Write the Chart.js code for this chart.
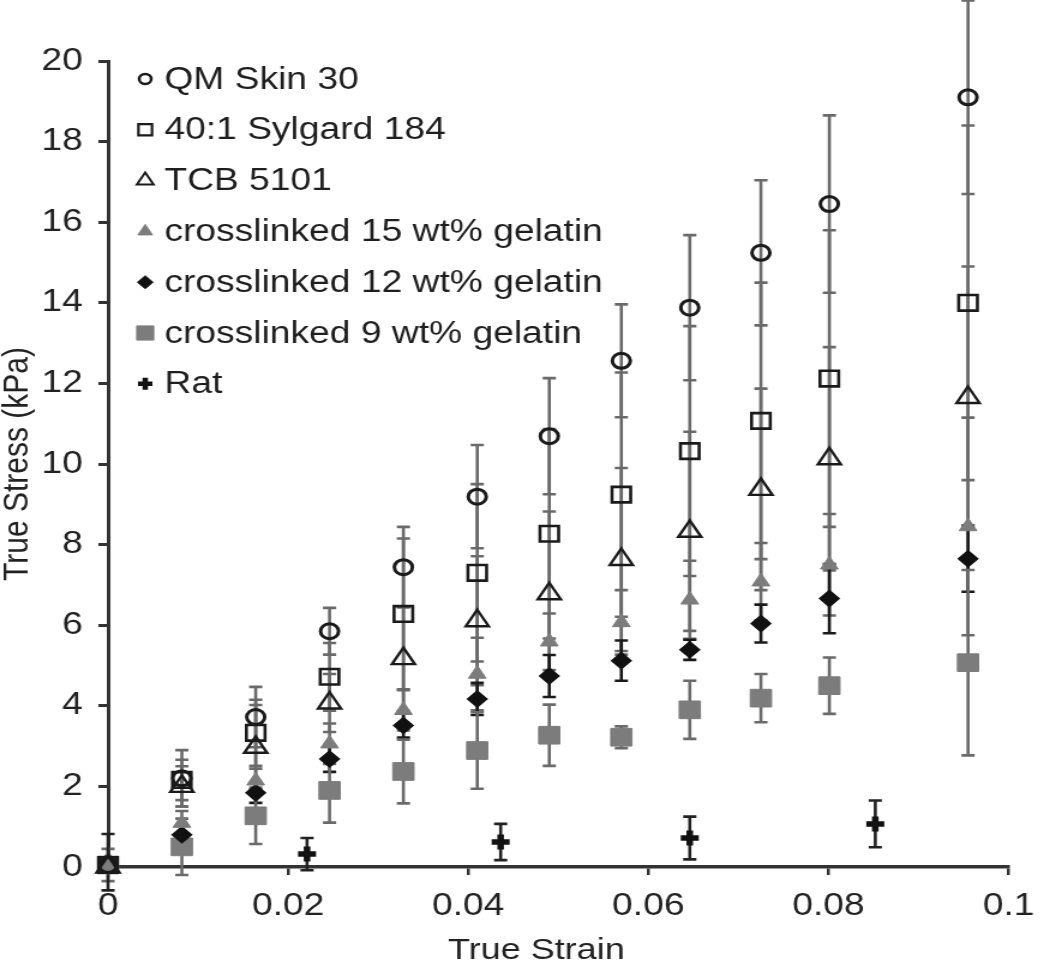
<!DOCTYPE html>
<html>
<head>
<meta charset="utf-8">
<script src="https://cdn.jsdelivr.net/npm/chart.js@4/dist/chart.umd.min.js"></script>
<style>
  html, body { margin: 0; padding: 0; background: #fff; }
</style>
</head>
<body>
<!-- the original figure is stretched sideways, so the canvas is drawn narrow and widened by its inline style -->
<canvas id="chart" width="875" height="965" style="width:1050px;height:965px;display:block"></canvas>
<script>
// strain columns shared by the six materials
const strain = [0, 0.0082, 0.0164, 0.0246, 0.0328, 0.041, 0.049, 0.057, 0.0646, 0.0725, 0.0801, 0.0955];

const qmSkin = [0.05, 2.2, 3.72, 5.85, 7.44, 9.19, 10.69, 12.56, 13.88, 15.24, 16.45, 19.1];
const qmSkinErr = [0.4, 0.7, 0.75, 0.58, 1.0, 1.28, 1.44, 1.4, 1.8, 1.8, 2.2, 2.4];

const sylgard = [0.05, 2.16, 3.33, 4.72, 6.28, 7.3, 8.27, 9.24, 10.32, 11.07, 12.12, 14.0];
const sylgardErr = [0.1, 0.5, 0.82, 0.84, 1.87, 2.2, 2.6, 3.03, 3.1, 3.43, 3.68, 4.4];

const tcb = [0, 2.0, 2.97, 4.07, 5.17, 6.11, 6.78, 7.63, 8.33, 9.37, 10.13, 11.65];
const tcbErr = [0.1, 0.5, 1.05, 0.72, 1.3, 1.6, 2.04, 2.27, 2.47, 2.5, 2.77, 3.25];

const gel15 = [0.02, 1.09, 2.14, 3.06, 3.89, 4.79, 5.59, 6.07, 6.63, 7.08, 7.5, 8.45];
const gel15Err = [0.1, 0.3, 0.3, 0.5, 0.5, 0.9, 0.7, 0.8, 0.97, 0.96, 1.26, 2.7];

const gel12 = [0.05, 0.8, 1.84, 2.68, 3.51, 4.17, 4.74, 5.12, 5.39, 6.04, 6.66, 7.65];
const gel12Err = [0.1, 0.25, 0.25, 0.32, 0.3, 0.4, 0.52, 0.5, 0.25, 0.47, 0.86, 0.82];

const gel9 = [0.05, 0.5, 1.27, 1.9, 2.37, 2.89, 3.27, 3.22, 3.9, 4.19, 4.5, 5.07];
const gel9Err = [0.1, 0.7, 0.7, 0.8, 0.79, 0.95, 0.76, 0.27, 0.72, 0.6, 0.7, 2.3];

// rat tissue was measured at other strains
const ratStrain = [0, 0.0221, 0.0436, 0.0646, 0.0852];
const rat = [0.12, 0.32, 0.62, 0.72, 1.07];
const ratErr = [0.7, 0.4, 0.45, 0.53, 0.58];

const xTicks = [0, 0.02, 0.04, 0.06, 0.08, 0.1];
const yTicks = [0, 2, 4, 6, 8, 10, 12, 14, 16, 18, 20];

const FONT = '"Liberation Sans", Arial, sans-serif';
const GRAY = "#7c7c7c";
const BAR = "#6a6a6a";

function points(xs, ys) {
  return ys.map((v, i) => ({ x: xs[i], y: v }));
}

// vertical error bars with caps, drawn under the markers
const errorBars = {
  id: "errorBars",
  beforeDatasetsDraw(chart) {
    const { ctx, scales } = chart;
    chart.data.datasets.forEach((ds) => {
      ctx.save();
      ctx.strokeStyle = ds.errColor;
      ctx.lineWidth = 2.6;
      ds.data.forEach((p, j) => {
        const e = ds.errors[j];
        const px = scales.x.getPixelForValue(p.x);
        const top = scales.y.getPixelForValue(p.y + e);
        const bot = scales.y.getPixelForValue(p.y - e);
        ctx.beginPath();
        ctx.moveTo(px, top);
        ctx.lineTo(px, bot);
        ctx.moveTo(px - 5.5, top);
        ctx.lineTo(px + 5.5, top);
        ctx.moveTo(px - 5.5, bot);
        ctx.lineTo(px + 5.5, bot);
        ctx.stroke();
      });
      ctx.restore();
    });
  },
};

// legend list inside the plot (top left) and the x title, which sits left of the axis centre
const legendList = {
  id: "legendList",
  afterDraw(chart) {
    const ctx = chart.ctx;
    ctx.save();
    ctx.textBaseline = "middle";
    ctx.font = "31px " + FONT;
    chart.data.datasets.forEach((ds, i) => {
      const yy = 79 + i * 50.8;
      ctx.fillStyle = ds.backgroundColor;
      ctx.strokeStyle = ds.borderColor;
      ctx.lineWidth = ds.legendBorder;
      Chart.helpers.drawPoint(ctx, {
        pointStyle: ds.pointStyle,
        radius: ds.legendRadius,
        borderWidth: ds.legendBorder,
        rotation: 0,
      }, 121, yy);
      ctx.fillStyle = "#1e1e1e";
      ctx.fillText(ds.label, 137, yy + 1);
    });
    ctx.font = "30px " + FONT;
    ctx.textAlign = "center";
    ctx.fillStyle = "#222";
    ctx.fillText("True Strain", 447, 951);
    ctx.restore();
  },
};

const datasets = [
  {
    label: "QM Skin 30", data: points(strain, qmSkin), errors: qmSkinErr, errColor: BAR,
    pointStyle: "circle", pointRadius: 7.5, borderWidth: 3,
    borderColor: "#1a1a1a", backgroundColor: "rgba(0,0,0,0)", legendRadius: 5, legendBorder: 2.5,
  },
  {
    label: "40:1 Sylgard 184", data: points(strain, sylgard), errors: sylgardErr, errColor: BAR,
    pointStyle: "rect", pointRadius: 11, borderWidth: 2.6,
    borderColor: "#1a1a1a", backgroundColor: "rgba(0,0,0,0)", legendRadius: 8, legendBorder: 2.2,
  },
  {
    label: "TCB 5101", data: points(strain, tcb), errors: tcbErr, errColor: BAR,
    pointStyle: "triangle", pointRadius: 11, borderWidth: 2.4,
    borderColor: "#1a1a1a", backgroundColor: "rgba(0,0,0,0)", legendRadius: 8, legendBorder: 2,
  },
  {
    label: "crosslinked 15 wt% gelatin", data: points(strain, gel15), errors: gel15Err, errColor: BAR,
    pointStyle: "triangle", pointRadius: 8.5, borderWidth: 1,
    borderColor: GRAY, backgroundColor: GRAY, legendRadius: 7, legendBorder: 1,
  },
  {
    label: "crosslinked 12 wt% gelatin", data: points(strain, gel12), errors: gel12Err, errColor: "#1a1a1a",
    pointStyle: "rectRot", pointRadius: 8, borderWidth: 1.5,
    borderColor: "#111", backgroundColor: "#111", legendRadius: 6.5, legendBorder: 1,
  },
  {
    label: "crosslinked 9 wt% gelatin", data: points(strain, gel9), errors: gel9Err, errColor: BAR,
    pointStyle: "rect", pointRadius: 12.5, borderWidth: 1,
    borderColor: GRAY, backgroundColor: GRAY, legendRadius: 10, legendBorder: 1,
  },
  {
    label: "Rat", data: points(ratStrain, rat), errors: ratErr, errColor: "#222",
    pointStyle: "cross", pointRadius: 7.5, borderWidth: 5.5,
    borderColor: "#111", backgroundColor: "#111", legendRadius: 6, legendBorder: 4.5,
  },
];

datasets.forEach((d) => {
  d.showLine = false;
  d.clip = false;
  d.pointHoverRadius = d.pointRadius;
});

new Chart(document.getElementById("chart"), {
  type: "scatter",
  data: { datasets: datasets },
  options: {
    responsive: false,
    animation: false,
    events: [],
    layout: { padding: { top: 61, right: 22, left: 0, bottom: 0 } },
    plugins: { legend: { display: false }, tooltip: { enabled: false } },
    scales: {
      x: {
        type: "linear", min: 0, max: 0.1,
        afterFit: (s) => { s.height = 98; },
        afterBuildTicks: (s) => { s.ticks = xTicks.map((v) => ({ value: v })); },
        ticks: {
          color: "#222", padding: 13, maxRotation: 0,
          font: { family: FONT, size: 31 },
          callback: (v) => String(+v.toFixed(2)),
        },
        grid: { drawOnChartArea: false, tickLength: 8, lineWidth: 2.5, color: "#333" },
        border: { color: "#333", width: 3.5 },
      },
      y: {
        type: "linear", min: 0, max: 20,
        afterFit: (s) => { s.width = 90; },
        afterBuildTicks: (s) => { s.ticks = yTicks.map((v) => ({ value: v })); },
        ticks: {
          color: "#222", padding: 13,
          font: { family: FONT, size: 31 },
        },
        grid: { drawOnChartArea: false, tickLength: 8, lineWidth: 3, color: "#333" },
        border: { color: "#333", width: 3 },
        title: {
          display: true, text: "True Stress (kPa)", color: "#222", padding: 0,
          font: { family: FONT, size: 30, lineHeight: 1 },
        },
      },
    },
  },
  plugins: [errorBars, legendList],
});
</script>
</body>
</html>
